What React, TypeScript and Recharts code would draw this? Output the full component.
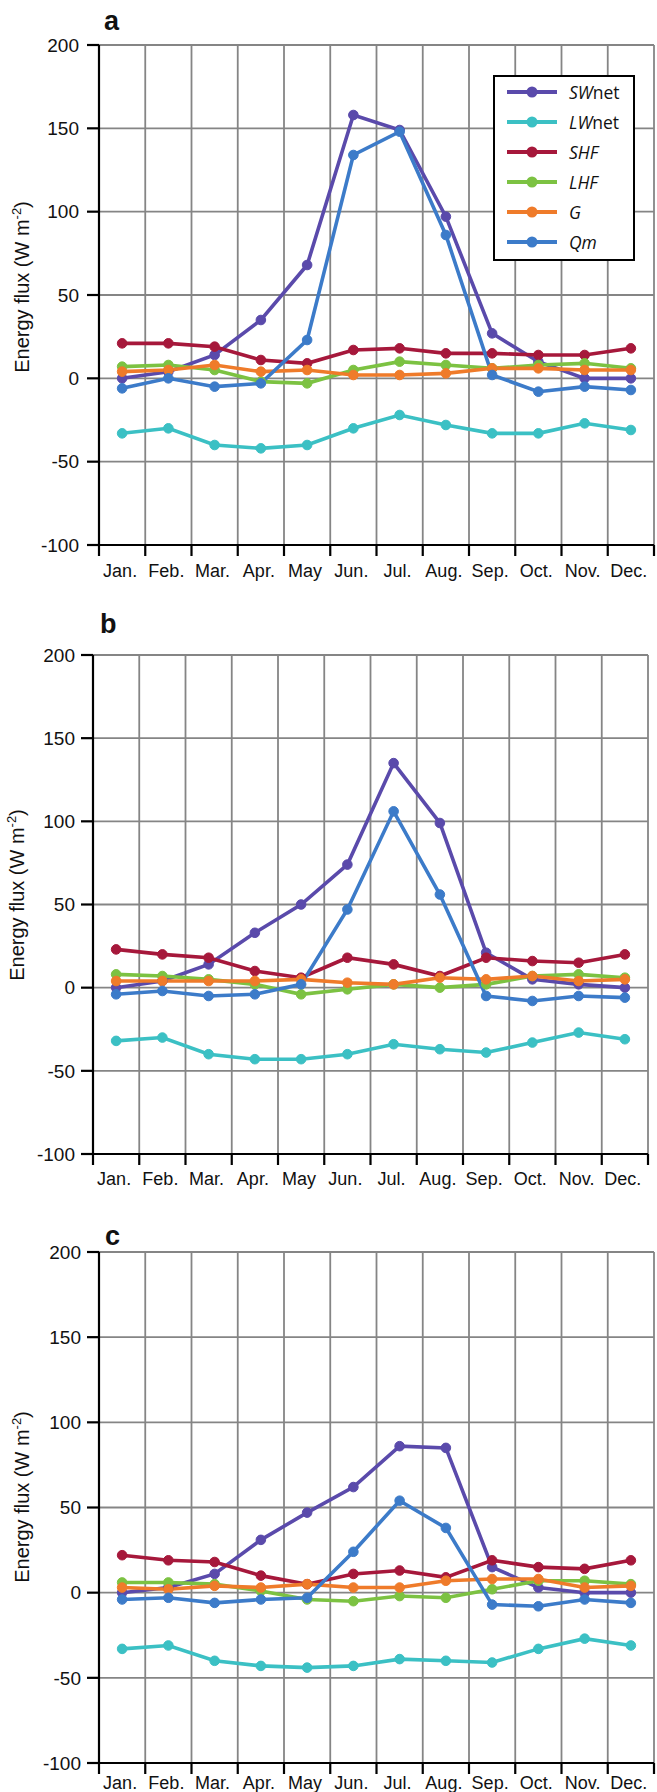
import React from 'react'
import { LineChart, Line, CartesianGrid, XAxis, YAxis, Legend } from 'recharts'

const months = ['Jan.', 'Feb.', 'Mar.', 'Apr.', 'May', 'Jun.', 'Jul.', 'Aug.', 'Sep.', 'Oct.', 'Nov.', 'Dec.']
const yTicks = [-100, -50, 0, 50, 100, 150, 200]
const xTicks = [0, 1, 2, 3, 4, 5, 6, 7, 8, 9, 10, 11, 12]

// panel a
const swA = [0, 4, 14, 35, 68, 158, 149, 97, 27, 10, 0, 0]
const lwA = [-33, -30, -40, -42, -40, -30, -22, -28, -33, -33, -27, -31]
const shfA = [21, 21, 19, 11, 9, 17, 18, 15, 15, 14, 14, 18]
const lhfA = [7, 8, 5, -2, -3, 5, 10, 8, 6, 8, 9, 6]
const gA = [4, 5, 8, 4, 5, 2, 2, 3, 6, 6, 5, 5]
const qmA = [-6, 0, -5, -3, 23, 134, 148, 86, 2, -8, -5, -7]

// panel b
const swB = [0, 4, 14, 33, 50, 74, 135, 99, 21, 5, 2, 0]
const lwB = [-32, -30, -40, -43, -43, -40, -34, -37, -39, -33, -27, -31]
const shfB = [23, 20, 18, 10, 6, 18, 14, 7, 18, 16, 15, 20]
const lhfB = [8, 7, 5, 2, -4, -1, 2, 0, 2, 7, 8, 6]
const gB = [4, 4, 4, 4, 5, 3, 2, 6, 5, 7, 4, 5]
const qmB = [-4, -2, -5, -4, 2, 47, 106, 56, -5, -8, -5, -6]

// panel c
const swC = [0, 3, 11, 31, 47, 62, 86, 85, 15, 3, 0, 0]
const lwC = [-33, -31, -40, -43, -44, -43, -39, -40, -41, -33, -27, -31]
const shfC = [22, 19, 18, 10, 5, 11, 13, 9, 19, 15, 14, 19]
const lhfC = [6, 6, 5, 1, -4, -5, -2, -3, 2, 7, 7, 5]
const gC = [3, 2, 4, 3, 5, 3, 3, 7, 8, 8, 3, 4]
const qmC = [-4, -3, -6, -4, -3, 24, 54, 38, -7, -8, -4, -6]

const series = [
  { key: 'SWnet', color: '#5a4aab', label: <><i>SW</i>net</> },
  { key: 'LWnet', color: '#3bc0c4', label: <><i>LW</i>net</> },
  { key: 'SHF', color: '#a6183b', label: <i>SHF</i> },
  { key: 'LHF', color: '#7cc242', label: <i>LHF</i> },
  { key: 'G', color: '#ef7b2a', label: <i>G</i> },
  { key: 'Qm', color: '#3c7bc9', label: <i>Qm</i> },
]

function buildRows(sw: number[], lw: number[], shf: number[], lhf: number[], g: number[], qm: number[]) {
  return months.map((m, i) => ({
    x: i + 0.5,
    month: m,
    SWnet: sw[i],
    LWnet: lw[i],
    SHF: shf[i],
    LHF: lhf[i],
    G: g[i],
    Qm: qm[i],
  }))
}

const panels = [
  { id: 'a', rows: buildRows(swA, lwA, shfA, lhfA, gA, qmA), top: 0, height: 600, plotTop: 45, plotBottom: 545, left: 99, right: 654, tickMargin: 8, yTickMargin: 8, legend: true },
  { id: 'b', rows: buildRows(swB, lwB, shfB, lhfB, gB, qmB), top: 600, height: 600, plotTop: 55, plotBottom: 554, left: 93, right: 648, tickMargin: 7, yTickMargin: 6, legend: false },
  { id: 'c', rows: buildRows(swC, lwC, shfC, lhfC, gC, qmC), top: 1200, height: 592, plotTop: 52, plotBottom: 563, left: 99, right: 654, tickMargin: 2, yTickMargin: 6, legend: false },
]

const font = '"Liberation Sans", Arial, sans-serif'

function MonthTick(props: any) {
  const { x, y, payload, colW } = props
  const idx = Math.floor(payload.value)
  if (idx >= months.length) return null
  return (
    <text x={x + colW / 2 - 2} y={y} dy={13} textAnchor="middle" fontSize={18} fontFamily={font} fill="#111">
      {months[idx]}
    </text>
  )
}

function LegendBox() {
  return (
    <div style={{ border: '2px solid #000', background: '#fff', width: 138, padding: '0 0 2px 0', fontFamily: '"Open Sans", sans-serif' }}>
      {series.map((s) => (
        <div key={s.key} style={{ height: 30, display: 'flex', alignItems: 'center' }}>
          <svg width={74} height={30}>
            <line x1={12} x2={62} y1={15} y2={15} stroke={s.color} strokeWidth={4} />
            <circle cx={37} cy={15} r={5.5} fill={s.color} />
          </svg>
          <span style={{ fontSize: 17.5, color: '#111', lineHeight: '30px' }}>{s.label}</span>
        </div>
      ))}
    </div>
  )
}

function Panel({ p }: { p: (typeof panels)[number] }) {
  const colW = (p.right - p.left) / 12
  const xAxisH = p.height - p.plotBottom - 4
  return (
    <div style={{ position: 'absolute', left: 0, top: p.top }}>
      <LineChart
        width={657}
        height={p.height}
        data={p.rows}
        margin={{ top: p.plotTop, right: 657 - p.right, bottom: 4, left: 0 }}
      >
        <CartesianGrid stroke="#858585" strokeWidth={1.8} />
        <XAxis
          type="number"
          dataKey="x"
          domain={[0, 12]}
          ticks={xTicks}
          interval={0}
          height={xAxisH}
          axisLine={{ stroke: '#000', strokeWidth: 2.2 }}
          tickLine={{ stroke: '#000', strokeWidth: 2.2 }}
          tickSize={11}
          tickMargin={p.tickMargin}
          tick={<MonthTick colW={colW} />}
        />
        <YAxis
          type="number"
          domain={[-100, 200]}
          ticks={yTicks}
          interval={0}
          width={p.left}
          axisLine={{ stroke: '#000', strokeWidth: 2.2 }}
          tickLine={{ stroke: '#000', strokeWidth: 2.2 }}
          tickSize={12}
          tickMargin={p.yTickMargin}
          tick={{ fontSize: 19, fontFamily: font, fill: '#111' }}
        />
        {p.legend && (
          <Legend
            layout="vertical"
            align="center"
            verticalAlign="middle"
            content={() => <LegendBox />}
            wrapperStyle={{ position: 'absolute', left: 493, top: 75, width: 142 }}
          />
        )}
        {series.map((s) => (
          <Line
            key={s.key}
            type="linear"
            dataKey={s.key}
            stroke={s.color}
            strokeWidth={3.6}
            dot={{ r: 4.8, fill: s.color, stroke: s.color, strokeWidth: 1 }}
            activeDot={false}
            isAnimationActive={false}
          />
        ))}
      </LineChart>
    </div>
  )
}

function YLabel({ x, cy }: { x: number; cy: number }) {
  return (
    <text
      transform={`translate(${x}, ${cy}) rotate(-90)`}
      textAnchor="middle"
      fontSize={20}
      fontFamily={font}
      fill="#111"
    >
      Energy flux (W m
      <tspan dy={-8} fontSize={13}>-2</tspan>
      <tspan dy={8}>)</tspan>
    </text>
  )
}

export default function App() {
  return (
    <div style={{ position: 'absolute', left: 0, top: 0, width: 657, height: 1792, background: '#fff', overflow: 'hidden' }}>
      {panels.map((p) => (
        <Panel key={p.id} p={p} />
      ))}
      <svg width={657} height={1792} style={{ position: 'absolute', left: 0, top: 0, pointerEvents: 'none' }}>
        <text x={104} y={30} fontSize={27} fontWeight="bold" fontFamily={font} fill="#111">a</text>
        <text x={100} y={633} fontSize={27} fontWeight="bold" fontFamily={font} fill="#111">b</text>
        <text x={105} y={1245} fontSize={27} fontWeight="bold" fontFamily={font} fill="#111">c</text>
        <YLabel x={29} cy={287} />
        <YLabel x={24} cy={895} />
        <YLabel x={29} cy={1497} />
      </svg>
    </div>
  )
}
